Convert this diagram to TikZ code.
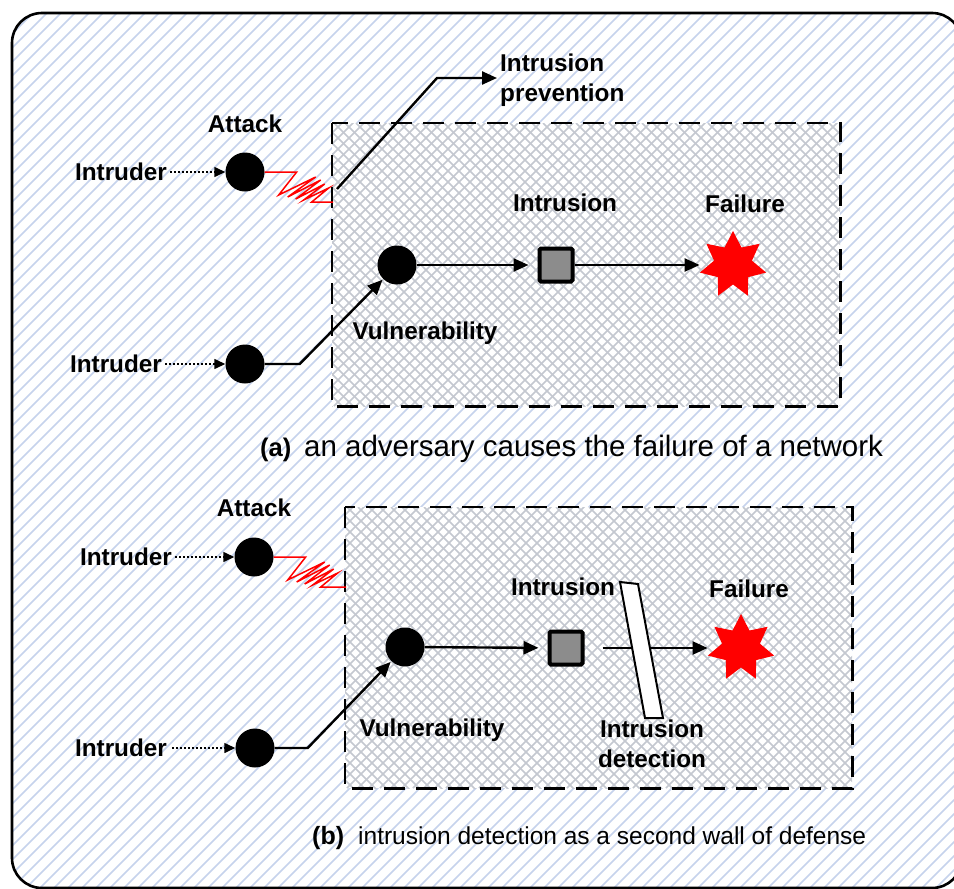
\documentclass[tikz,border=0pt]{standalone}
\usepackage{fontspec}
\setmainfont{Liberation Sans}
\usetikzlibrary{arrows.meta,shapes.geometric}

\definecolor{hatchblue}{HTML}{C6D3EC}
\definecolor{meshgray}{HTML}{C4C8D0}
\definecolor{boxgray}{HTML}{8C8C8C}

% diagonal cross-hatch inside a rectangle given by its corners
\newcommand\meshfill[4]{%
  \begin{scope}
    \clip (#1,#2) rectangle (#3,#4);
    \foreach \i in {0,...,75} {
      \draw[mesh] ({#1-295+\i*11},#4) -- ++(295,-295);
      \draw[mesh] ({#1-295+\i*11},#2) -- ++(295,295);
    }
  \end{scope}}

\begin{document}
\begin{tikzpicture}[x=1pt,y=-1pt,
  lbl/.style={font=\bfseries\fontsize{24.3}{30}\selectfont, inner sep=0pt},
  dot/.style={circle, fill=black, minimum size=39pt, inner sep=0pt},
  intr/.style={rectangle, draw=black, fill=boxgray, line width=4pt,
    minimum size=33pt, inner sep=0pt, rounded corners=1.5pt},
  boom/.style={star, star points=7, star point ratio=1.75, fill=red,
    minimum size=68pt, inner sep=0pt},
  flow/.style={line width=2.4pt, -{Triangle[length=15pt,width=13pt]}},
  feed/.style={line width=1.4pt, dash pattern=on 2pt off 2pt,
    -{Triangle[length=11pt,width=10pt]}},
  spring/.style={red, line width=1.5pt},
  zonefill/.style={fill=white, inner sep=0pt, anchor=north west},
  zoneline/.style={line width=2.8pt, dash pattern=on 21pt off 11pt},
  mesh/.style={meshgray, line width=1.5pt},
  wall/.style={draw=black, fill=white, line width=2pt},
]
\useasboundingbox (0,0) rectangle (954,889);

% striped background inside the rounded frame
\begin{scope}
  \clip[rounded corners=30pt] (12,13) rectangle (962,888);
  \fill[white] (0,0) rectangle (964,900);
  \foreach \k in {-910,-896,...,960}
    \draw[hatchblue, line width=1.7pt] (\k,900) -- ++(900,-900);
\end{scope}
\draw[line width=2.6pt, rounded corners=30pt] (12,13) rectangle (962,888);

% ---------------- (a) ----------------
\node[zonefill, minimum width=508pt, minimum height=283pt] (zoneA) at (332,123) {};
\meshfill{332}{123}{840}{406}
\draw[zoneline] (zoneA.north west) rectangle (zoneA.south east);

\node[lbl] (attA) at (245,124) {Attack};
\node[dot] (atkA) at (245,172) {};
\node[lbl] (inA1) at (121,172) {Intruder};
\draw[feed, shorten <=3pt] (inA1) -- (atkA);

\coordinate (sprA) at (333,202);
\draw[spring] (atkA.east) -- ++(32,0) -- ++(-18,23) -- ++(37,-18) -- ++(-28,20)
  -- ++(33,-17) -- ++(-25,19) -- ++(29,-15) -- ++(-21,16) -- ++(25,-12)
  -- ++(-17,14) -- (sprA);

\coordinate (prevA) at (337,189);
\coordinate (bendA) at (437,78);
\node[lbl, align=left, anchor=west] (prevL) at (500,80) {Intrusion\\prevention};
\draw[flow, shorten >=3pt] (prevA) -- (bendA) -- (bendA -| prevL.west);

\node[dot] (vulA) at (397,265) {};
\node[lbl] (vulAl) at (425,333) {Vulnerability};
\node[lbl] (inA2) at (116,364) {Intruder};
\node[dot] (srcA) at (245,364) {};
\draw[feed, shorten <=3pt] (inA2) -- (srcA);
\draw[flow, shorten >=1pt] (srcA.east) -- ++(35,0) -- (vulA);

\node[intr] (sqA) at (556,265) {};
\node[lbl] (intA) at (565,203) {Intrusion};
\draw[flow, shorten >=9pt] (vulA) -- (sqA);
\node[boom] (failA) at (733,265) {};
\node[lbl] (failAl) at (745,204) {Failure};
\draw[flow, shorten >=9pt] (sqA) -- (failA);

\node[anchor=base west, inner sep=0pt, font=\bfseries\fontsize{25.5}{28}\selectfont]
  (capA) at (260,456) {(a)};
\node[anchor=base west, inner sep=0pt, font=\fontsize{29.5}{32}\selectfont]
  (capAt) at (304,456) {an adversary causes the failure of a network};

% ---------------- (b) ----------------
\node[zonefill, minimum width=507pt, minimum height=281pt] (zoneB) at (345,507) {};
\meshfill{345}{507}{852}{788}
\draw[zoneline] (zoneB.north west) rectangle (zoneB.south east);

\node[lbl] (attB) at (254,508) {Attack};
\node[dot] (atkB) at (254,557) {};
\node[lbl] (inB1) at (126,557) {Intruder};
\draw[feed, shorten <=3pt] (inB1) -- (atkB);

\coordinate (sprB) at (346,587);
\draw[spring] (atkB.east) -- ++(32,0) -- ++(-18,23) -- ++(37,-18) -- ++(-28,20)
  -- ++(33,-17) -- ++(-25,19) -- ++(29,-15) -- ++(-21,16) -- ++(25,-12)
  -- ++(-17,14) -- (sprB);

\node[dot] (vulB) at (405,647) {};
\node[lbl] (vulBl) at (432,730) {Vulnerability};
\node[lbl] (inB2) at (121,748) {Intruder};
\node[dot] (srcB) at (255,748) {};
\draw[feed, shorten <=5pt] (inB2) -- (srcB);
\draw[flow, shorten >=1pt] (srcB.east) -- ++(33,0) -- (vulB);

\node[intr] (sqB) at (566,648) {};
\node[lbl] (intB) at (563,587) {Intrusion};
\draw[flow, shorten >=9pt] (vulB) -- (sqB);
\node[boom] (failB) at (741,648) {};
\node[lbl] (failBl) at (749,589) {Failure};
\draw[flow, shorten <=18pt, shorten >=9pt] (sqB) -- (failB);

% detection wall across the intrusion path
\draw[wall] (620,582) -- (638,584) -- (663,718) -- (645,718) -- cycle;
\node[lbl, align=center] (detB) at (652,744) {Intrusion\\detection};

\node[anchor=base west, inner sep=0pt, font=\bfseries\fontsize{25}{28}\selectfont]
  (capB) at (312,844) {(b)};
\node[anchor=base west, inner sep=0pt, font=\fontsize{24.5}{28}\selectfont]
  (capBt) at (358,844) {intrusion detection as a second wall of defense};
\end{tikzpicture}
\end{document}
